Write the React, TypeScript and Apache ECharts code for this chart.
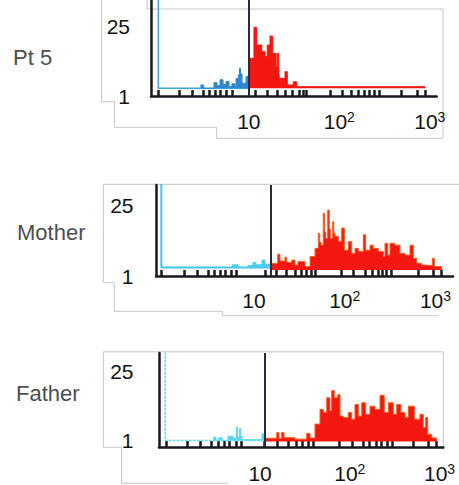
import React, { useEffect, useRef } from 'react';
import * as echarts from 'echarts';

// ---------- data (x in decades of fluorescence, y in cell counts) ----------
const PANEL_LABELS = ['Pt 5', 'Mother', 'Father'];
const Y_TICK_VALUES = [1, 25];
const X_LABEL_DECADES = [1, 2, 3];

// Pt 5
const P1_GATE = 1.0;
const P1_BASE = 3.66;
const P1_CONTROL: number[][] = [[0, 40], [0, 3.66], [1.0, 3.66]];
const P1_LOW: number[][] = [
  [0.466, 4.8], [0.5, 3.66], [0.615, 5.6], [0.648, 4.5], [0.682, 6.6], [0.715, 5.0],
  [0.748, 6.0], [0.781, 4.3], [0.814, 5.2], [0.848, 4.2], [0.859, 7.0], [0.886, 8.3],
  [0.897, 10.6], [0.908, 8.6], [0.925, 5.4], [0.969, 7.7], [1.0, 3.66],
];
const P1_HIGH: number[][] = [
  [1.006, 14.0], [1.057, 24.7], [1.087, 18.6], [1.143, 16.3], [1.179, 14.6], [1.204, 18.6],
  [1.234, 21.7], [1.264, 15.7], [1.301, 11.1], [1.315, 15.7], [1.33, 11.1], [1.337, 7.1],
  [1.4, 9.4], [1.425, 4.8], [1.492, 5.9], [1.529, 4.2], [2.947, 3.66],
];
const P1_TICKS = [
  0.002, 0.229, 0.372, 0.494, 0.56, 0.627, 0.687, 0.754, 0.814,
  1.069, 1.207, 1.317, 1.406, 1.483, 1.555, 1.599, 1.638,
  1.897, 2.03, 2.135, 2.212, 2.273, 2.334, 2.383, 2.439,
  2.689, 2.864, 2.947,
];

// Mother
const P2_GATE = 1.177;
const P2_BASE = 3.9;
const P2_FLOOR = 3.0;
const P2_CONTROL: number[][] = [[-0.02, 40], [-0.02, 3.9], [1.177, 3.9]];
const P2_LOW: number[][] = [
  [0.758, 4.8], [0.824, 3.9], [0.934, 4.6], [0.99, 5.6], [1.02, 4.8], [1.089, 6.4],
  [1.122, 5.0], [1.177, 3.9],
];
const P2_HIGH: number[][] = [
  [1.177, 5.3], [1.262, 8.4], [1.287, 6.1], [1.342, 7.4], [1.361, 5.6], [1.416, 6.4],
  [1.452, 4.7], [1.485, 5.9], [1.563, 4.2], [1.618, 7.6], [1.673, 10.4], [1.709, 15.5],
  [1.724, 12.5], [1.739, 11.5], [1.764, 22.3], [1.777, 16.0], [1.791, 13.8], [1.813, 23.4],
  [1.83, 17.0], [1.841, 13.8], [1.868, 19.5], [1.88, 15.5], [1.893, 14.4], [1.93, 12.8],
  [1.967, 17.3], [1.996, 9.8], [2.04, 12.7], [2.077, 8.7], [2.114, 10.4], [2.15, 9.3],
  [2.205, 15.0], [2.231, 9.8], [2.279, 11.5], [2.315, 10.4], [2.37, 9.3], [2.425, 7.6],
  [2.444, 12.1], [2.474, 8.1], [2.499, 12.1], [2.554, 11.5], [2.609, 8.7], [2.664, 8.1],
  [2.719, 11.5], [2.756, 7.0], [2.793, 5.3], [2.848, 4.7], [2.904, 4.5], [2.965, 7.0],
  [2.987, 4.2], [3.069, 3.0],
];
const P2_TICKS = [
  -0.017, 0.233, 0.38, 0.497, 0.563, 0.626, 0.689, 0.755, 0.81,
  1.122, 1.251, 1.361, 1.452, 1.526, 1.581, 1.636, 1.673,
  1.967, 2.095, 2.224, 2.298, 2.364, 2.414, 2.463, 2.518,
  2.811, 2.976, 3.069,
];

// Father
const P3_GATE = 1.055;
const P3_BASE = 1.0;
const P3_FLOOR = 0.7;
const P3_CONTROL: number[][] = [[-0.056, 40], [-0.056, 1.0], [1.055, 1.0]];
const P3_LOW: number[][] = [
  [0.478, 2.2], [0.51, 1.0], [0.54, 2.0], [0.578, 1.0], [0.643, 2.5], [0.7, 1.8],
  [0.735, 5.7], [0.748, 2.2], [0.772, 5.2], [0.785, 2.5], [0.799, 1.3], [1.022, 3.3],
  [1.055, 1.0],
];
const P3_HIGH: number[][] = [
  [1.066, 1.8], [1.186, 3.8], [1.211, 1.8], [1.241, 3.8], [1.267, 2.0], [1.389, 1.5],
  [1.52, 3.5], [1.557, 1.9], [1.612, 6.7], [1.668, 11.8], [1.705, 10.7], [1.743, 15.8],
  [1.779, 11.3], [1.798, 18.3], [1.827, 15.8], [1.865, 16.9], [1.891, 9.5], [1.928, 8.95],
  [1.983, 10.7], [2.021, 8.4], [2.058, 13.5], [2.095, 9.5], [2.133, 14.1], [2.177, 10.1],
  [2.225, 12.9], [2.281, 11.8], [2.337, 16.7], [2.384, 10.7], [2.429, 14.1], [2.485, 10.1],
  [2.523, 13.5], [2.57, 10.7], [2.615, 8.95], [2.652, 12.9], [2.719, 8.4], [2.782, 10.1],
  [2.819, 5.5], [2.846, 8.95], [2.868, 3.2], [2.913, 1.9], [2.968, 0.7],
];
const P3_TICKS = [
  -0.048, 0.192, 0.331, 0.453, 0.531, 0.598, 0.66, 0.732, 0.793,
  1.044, 1.189, 1.317, 1.408, 1.473, 1.534, 1.596,
  1.88, 2.03, 2.15, 2.214, 2.292, 2.348, 2.415, 2.471,
  2.708, 2.871, 2.968,
];

// ---------- layout / style ----------
const FONT = '"Liberation Sans", Arial, Helvetica, sans-serif';
const AXIS_COLOR = '#18181e';
const GATE_COLOR = '#272b40';
const RED = '#f3170f';

const PANELS = [
  {
    grid: { left: 151, top: 0, width: 285.7, height: 96 },
    x: [-0.081, 3.076], y: [1, 34.15], xMargin: 14, yMargin: 21,
    gate: P1_GATE, control: P1_CONTROL, low: P1_LOW, high: P1_HIGH, ticks: P1_TICKS,
    lowBase: P1_BASE, highBase: P1_BASE,
    controlStyle: { color: '#3aa6dc', width: 1.5, type: 'solid' },
    lowColor: '#2f88cf', highLine: '#f3170f',
    label: { x: 13, y: 57 },
  },
  {
    grid: { left: 156, top: 185, width: 297, height: 91 },
    x: [-0.079, 3.193], y: [1, 31.95], xMargin: 13, yMargin: 22.5,
    gate: P2_GATE, control: P2_CONTROL, low: P2_LOW, high: P2_HIGH, ticks: P2_TICKS,
    lowBase: P2_BASE, highBase: P2_FLOOR,
    controlStyle: { color: '#43c6ec', width: 2, type: 'solid' },
    lowColor: '#4fcdee', highLine: '#ff5d1c',
    label: { x: 17, y: 232.5 },
  },
  {
    grid: { left: 159, top: 353, width: 284.3, height: 95 },
    x: [-0.126, 3.042], y: [-1.228, 31.34], xMargin: 15, yMargin: 25.5,
    gate: P3_GATE, control: P3_CONTROL, low: P3_LOW, high: P3_HIGH, ticks: P3_TICKS,
    lowBase: P3_BASE, highBase: P3_FLOOR,
    controlStyle: { color: '#6fd8f2', width: 1.5, type: [3, 1] },
    lowColor: '#5fd6f0', highLine: '#ff5d1c',
    label: { x: 16, y: 393.5 },
  },
];

const FRAMES: number[][][] = [
  [[147, 0], [147, 9], [443, 9], [443, 138.3], [216.7, 138.3], [216.7, 127.3], [114.5, 127.3], [114.5, 101.7], [101.5, 101.7], [101.5, 0]],
  [[459, 184.3], [103.3, 184.3], [103.3, 282.7], [114.3, 282.7], [114.3, 311.3], [222.7, 311.3], [222.7, 315.7], [438.3, 315.7]],
  [[443.3, 450], [443.3, 351.8], [103.3, 351.8], [103.3, 447.3], [121.7, 447.3], [121.7, 483.3], [228.3, 483.3]],
];

function buildOption() {
  const grid: any[] = [];
  const xAxis: any[] = [];
  const yAxis: any[] = [];
  const series: any[] = [];
  const graphic: any[] = [];

  FRAMES.forEach((pts) => {
    graphic.push({
      type: 'polyline',
      z: 0,
      silent: true,
      shape: { points: pts },
      style: { stroke: '#c6c6c6', lineWidth: 1, fill: null },
    });
  });

  PANELS.forEach((p, i) => {
    grid.push({ ...p.grid, containLabel: false });
    xAxis.push({
      type: 'value',
      gridIndex: i,
      min: p.x[0],
      max: p.x[1],
      splitLine: { show: false },
      axisLine: { show: true, onZero: false, lineStyle: { color: AXIS_COLOR, width: 2.5 } },
      axisTick: {
        show: true,
        inside: true,
        length: 6,
        customValues: p.ticks,
        lineStyle: { color: AXIS_COLOR, width: 2.5 },
      },
      axisLabel: {
        show: true,
        customValues: X_LABEL_DECADES,
        margin: p.xMargin,
        color: '#111',
        fontSize: 21,
        lineHeight: 23,
        fontFamily: FONT,
        formatter: (v: number) => (Math.round(v) === 1 ? '10' : '10{sup|' + Math.round(v) + '}'),
        rich: {
          sup: { fontSize: 14, lineHeight: 11, verticalAlign: 'top', color: '#111', fontFamily: FONT },
        },
      },
    });
    yAxis.push({
      type: 'value',
      gridIndex: i,
      min: p.y[0],
      max: p.y[1],
      splitLine: { show: false },
      axisLine: { show: true, onZero: false, lineStyle: { color: AXIS_COLOR, width: 2.5 } },
      axisTick: { show: false },
      axisLabel: {
        show: true,
        customValues: Y_TICK_VALUES,
        margin: p.yMargin,
        color: '#111',
        fontSize: 21,
        fontFamily: FONT,
      },
    });

    series.push({
      type: 'line',
      name: PANEL_LABELS[i] + ' control',
      xAxisIndex: i,
      yAxisIndex: i,
      data: p.control,
      symbol: 'none',
      clip: true,
      z: 2,
      lineStyle: p.controlStyle,
      markLine: {
        silent: true,
        symbol: ['none', 'none'],
        label: { show: false },
        lineStyle: { color: GATE_COLOR, width: 2, type: 'solid' },
        data: [{ xAxis: p.gate }],
      },
    });
    series.push({
      type: 'line',
      name: PANEL_LABELS[i] + ' below gate',
      xAxisIndex: i,
      yAxisIndex: i,
      data: p.low,
      step: 'end',
      symbol: 'none',
      clip: true,
      z: 3,
      lineStyle: { color: p.lowColor, width: 1 },
      areaStyle: { color: p.lowColor, opacity: 1, origin: p.lowBase },
    });
    series.push({
      type: 'line',
      name: PANEL_LABELS[i] + ' above gate',
      xAxisIndex: i,
      yAxisIndex: i,
      data: p.high,
      step: 'end',
      symbol: 'none',
      clip: true,
      z: 4,
      lineStyle: { color: p.highLine, width: 1 },
      areaStyle: { color: RED, opacity: 1, origin: p.highBase },
    });

    graphic.push({
      type: 'text',
      x: p.label.x,
      y: p.label.y,
      silent: true,
      style: {
        text: PANEL_LABELS[i],
        fontSize: 22,
        fontFamily: FONT,
        fill: '#4d4d4d',
        verticalAlign: 'middle',
        textVerticalAlign: 'middle',
      },
    });
  });

  return {
    animation: false,
    backgroundColor: '#ffffff',
    grid,
    xAxis,
    yAxis,
    series,
    graphic,
  };
}

export default function App() {
  const ref = useRef<HTMLDivElement>(null);
  useEffect(() => {
    if (!ref.current) return;
    const chart = echarts.init(ref.current, undefined, { renderer: 'svg' });
    chart.setOption(buildOption() as any);
    return () => chart.dispose();
  }, []);
  return (
    <div
      ref={ref}
      style={{ position: 'fixed', left: 0, top: 0, width: 459, height: 485, background: '#fff' }}
    />
  );
}
